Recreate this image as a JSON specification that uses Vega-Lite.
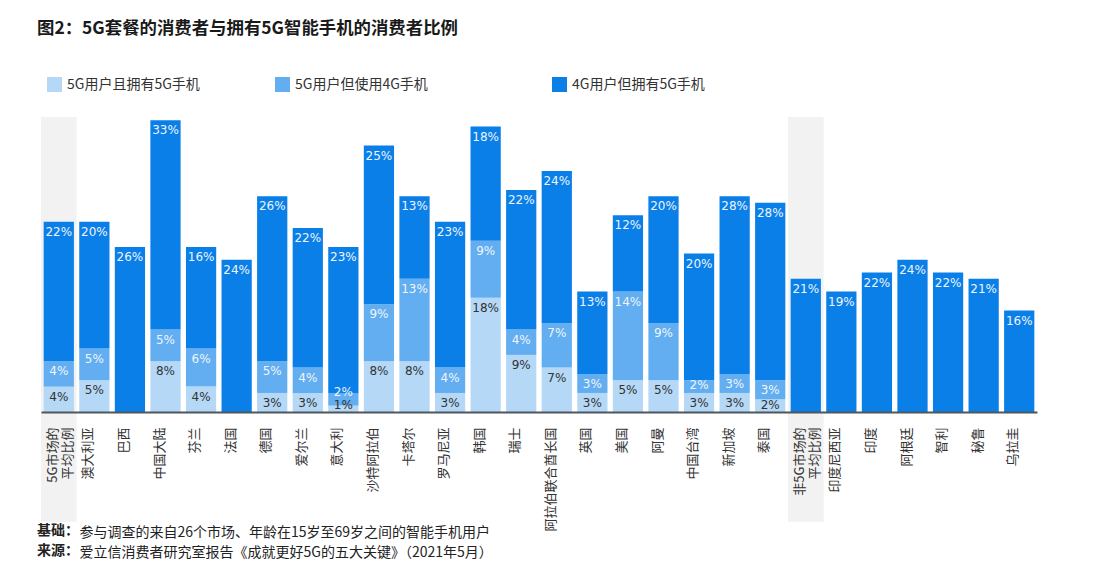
{
  "$schema": "https://vega.github.io/schema/vega-lite/v6.json",
  "width": 996,
  "height": 295,
  "autosize": {"type": "none"},
  "padding": {"left": 41, "top": 117, "right": 77, "bottom": 161},
  "background": "white",
  "title": {
    "text": "图2：5G套餐的消费者与拥有5G智能手机的消费者比例",
    "subtitle": ["基础：", "来源："],
    "anchor": "start",
    "frame": "group",
    "font": "Noto Sans CJK SC",
    "fontSize": 17.4,
    "fontWeight": "bold",
    "color": "#1a1a1a",
    "subtitleFont": "Noto Sans CJK SC",
    "subtitleFontSize": 14,
    "subtitleFontWeight": "bold",
    "subtitleColor": "#222222",
    "subtitleLineHeight": 20,
    "subtitlePadding": 487,
    "offset": -481,
    "dx": -4
  },
  "config": {
    "view": {"stroke": null},
    "legend": {
      "labelFont": "Noto Sans CJK SC",
      "labelFontSize": 14,
      "labelColor": "#333333",
      "symbolType": "square",
      "symbolSize": 225,
      "symbolStrokeWidth": 0,
      "labelOffset": 5,
      "labelLimit": 300,
      "columnPadding": 75
    }
  },
  "datasets": {
    "bands": [
      {"cat": "5G市场的|平均比例"},
      {"cat": "非5G市场的|平均比例"}
    ],
    "main": [
      {"cat": "5G市场的|平均比例", "series": "5G用户且拥有5G手机", "k": 1, "value": 4},
      {"cat": "5G市场的|平均比例", "series": "5G用户但使用4G手机", "k": 2, "value": 4},
      {"cat": "5G市场的|平均比例", "series": "4G用户但拥有5G手机", "k": 3, "value": 22},
      {"cat": "澳大利亚", "series": "5G用户且拥有5G手机", "k": 1, "value": 5},
      {"cat": "澳大利亚", "series": "5G用户但使用4G手机", "k": 2, "value": 5},
      {"cat": "澳大利亚", "series": "4G用户但拥有5G手机", "k": 3, "value": 20},
      {"cat": "巴西", "series": "4G用户但拥有5G手机", "k": 3, "value": 26},
      {"cat": "中国大陆", "series": "5G用户且拥有5G手机", "k": 1, "value": 8},
      {"cat": "中国大陆", "series": "5G用户但使用4G手机", "k": 2, "value": 5},
      {"cat": "中国大陆", "series": "4G用户但拥有5G手机", "k": 3, "value": 33},
      {"cat": "芬兰", "series": "5G用户且拥有5G手机", "k": 1, "value": 4},
      {"cat": "芬兰", "series": "5G用户但使用4G手机", "k": 2, "value": 6},
      {"cat": "芬兰", "series": "4G用户但拥有5G手机", "k": 3, "value": 16},
      {"cat": "法国", "series": "4G用户但拥有5G手机", "k": 3, "value": 24},
      {"cat": "德国", "series": "5G用户且拥有5G手机", "k": 1, "value": 3},
      {"cat": "德国", "series": "5G用户但使用4G手机", "k": 2, "value": 5},
      {"cat": "德国", "series": "4G用户但拥有5G手机", "k": 3, "value": 26},
      {"cat": "爱尔兰", "series": "5G用户且拥有5G手机", "k": 1, "value": 3},
      {"cat": "爱尔兰", "series": "5G用户但使用4G手机", "k": 2, "value": 4},
      {"cat": "爱尔兰", "series": "4G用户但拥有5G手机", "k": 3, "value": 22},
      {"cat": "意大利", "series": "5G用户且拥有5G手机", "k": 1, "value": 1},
      {"cat": "意大利", "series": "5G用户但使用4G手机", "k": 2, "value": 2},
      {"cat": "意大利", "series": "4G用户但拥有5G手机", "k": 3, "value": 23},
      {"cat": "沙特阿拉伯", "series": "5G用户且拥有5G手机", "k": 1, "value": 8},
      {"cat": "沙特阿拉伯", "series": "5G用户但使用4G手机", "k": 2, "value": 9},
      {"cat": "沙特阿拉伯", "series": "4G用户但拥有5G手机", "k": 3, "value": 25},
      {"cat": "卡塔尔", "series": "5G用户且拥有5G手机", "k": 1, "value": 8},
      {"cat": "卡塔尔", "series": "5G用户但使用4G手机", "k": 2, "value": 13},
      {"cat": "卡塔尔", "series": "4G用户但拥有5G手机", "k": 3, "value": 13},
      {"cat": "罗马尼亚", "series": "5G用户且拥有5G手机", "k": 1, "value": 3},
      {"cat": "罗马尼亚", "series": "5G用户但使用4G手机", "k": 2, "value": 4},
      {"cat": "罗马尼亚", "series": "4G用户但拥有5G手机", "k": 3, "value": 23},
      {"cat": "韩国", "series": "5G用户且拥有5G手机", "k": 1, "value": 18},
      {"cat": "韩国", "series": "5G用户但使用4G手机", "k": 2, "value": 9},
      {"cat": "韩国", "series": "4G用户但拥有5G手机", "k": 3, "value": 18},
      {"cat": "瑞士", "series": "5G用户且拥有5G手机", "k": 1, "value": 9},
      {"cat": "瑞士", "series": "5G用户但使用4G手机", "k": 2, "value": 4},
      {"cat": "瑞士", "series": "4G用户但拥有5G手机", "k": 3, "value": 22},
      {"cat": "阿拉伯联合酋长国", "series": "5G用户且拥有5G手机", "k": 1, "value": 7},
      {"cat": "阿拉伯联合酋长国", "series": "5G用户但使用4G手机", "k": 2, "value": 7},
      {"cat": "阿拉伯联合酋长国", "series": "4G用户但拥有5G手机", "k": 3, "value": 24},
      {"cat": "英国", "series": "5G用户且拥有5G手机", "k": 1, "value": 3},
      {"cat": "英国", "series": "5G用户但使用4G手机", "k": 2, "value": 3},
      {"cat": "英国", "series": "4G用户但拥有5G手机", "k": 3, "value": 13},
      {"cat": "美国", "series": "5G用户且拥有5G手机", "k": 1, "value": 5},
      {"cat": "美国", "series": "5G用户但使用4G手机", "k": 2, "value": 14},
      {"cat": "美国", "series": "4G用户但拥有5G手机", "k": 3, "value": 12},
      {"cat": "阿曼", "series": "5G用户且拥有5G手机", "k": 1, "value": 5},
      {"cat": "阿曼", "series": "5G用户但使用4G手机", "k": 2, "value": 9},
      {"cat": "阿曼", "series": "4G用户但拥有5G手机", "k": 3, "value": 20},
      {"cat": "中国台湾", "series": "5G用户且拥有5G手机", "k": 1, "value": 3},
      {"cat": "中国台湾", "series": "5G用户但使用4G手机", "k": 2, "value": 2},
      {"cat": "中国台湾", "series": "4G用户但拥有5G手机", "k": 3, "value": 20},
      {"cat": "新加坡", "series": "5G用户且拥有5G手机", "k": 1, "value": 3},
      {"cat": "新加坡", "series": "5G用户但使用4G手机", "k": 2, "value": 3},
      {"cat": "新加坡", "series": "4G用户但拥有5G手机", "k": 3, "value": 28},
      {"cat": "泰国", "series": "5G用户且拥有5G手机", "k": 1, "value": 2},
      {"cat": "泰国", "series": "5G用户但使用4G手机", "k": 2, "value": 3},
      {"cat": "泰国", "series": "4G用户但拥有5G手机", "k": 3, "value": 28},
      {"cat": "非5G市场的|平均比例", "series": "4G用户但拥有5G手机", "k": 3, "value": 21},
      {"cat": "印度尼西亚", "series": "4G用户但拥有5G手机", "k": 3, "value": 19},
      {"cat": "印度", "series": "4G用户但拥有5G手机", "k": 3, "value": 22},
      {"cat": "阿根廷", "series": "4G用户但拥有5G手机", "k": 3, "value": 24},
      {"cat": "智利", "series": "4G用户但拥有5G手机", "k": 3, "value": 22},
      {"cat": "秘鲁", "series": "4G用户但拥有5G手机", "k": 3, "value": 21},
      {"cat": "乌拉圭", "series": "4G用户但拥有5G手机", "k": 3, "value": 16}
    ]
  },
  "encoding": {
    "x": {
      "field": "cat",
      "type": "nominal",
      "sort": null,
      "scale": {
        "domain": ["5G市场的|平均比例", "澳大利亚", "巴西", "中国大陆", "芬兰", "法国", "德国", "爱尔兰", "意大利", "沙特阿拉伯", "卡塔尔", "罗马尼亚", "韩国", "瑞士", "阿拉伯联合酋长国", "英国", "美国", "阿曼", "中国台湾", "新加坡", "泰国", "非5G市场的|平均比例", "印度尼西亚", "印度", "阿根廷", "智利", "秘鲁", "乌拉圭"],
        "paddingInner": 0.15,
        "paddingOuter": 0.075
      },
      "axis": {
        "zindex": 1,
        "labelAngle": -90,
        "labelAlign": "right",
        "labelBaseline": "middle",
        "labelExpr": "split(datum.label, '|')",
        "labelFont": "Noto Sans CJK SC",
        "labelFontSize": 13,
        "labelColor": "#333333",
        "labelLineHeight": 15,
        "labelPadding": 15,
        "labelOffset": -6,
        "labelOverlap": false,
        "labelLimit": 300,
        "ticks": false,
        "domainColor": "#4f565c",
        "domainWidth": 2,
        "title": ["参与调查的来自26个市场、年龄在15岁至69岁之间的智能手机用户", "爱立信消费者研究室报告《成就更好5G的五大关键》（2021年5月）"],
        "titleFont": "Noto Sans CJK SC",
        "titleFontSize": 14,
        "titleFontWeight": "normal",
        "titleColor": "#222222",
        "titleLineHeight": 20,
        "titleAnchor": "start",
        "titleAlign": "left",
        "titleBaseline": "top",
        "titleAngle": 0,
        "titleLimit": 800,
        "titleX": 38,
        "titleY": 113
      }
    }
  },
  "layer": [
    {
      "data": {"name": "bands"},
      "mark": {"type": "bar", "color": "#f2f2f2", "width": {"band": 1.177}},
      "encoding": {
        "y": {
          "datum": 46.5,
          "type": "quantitative",
          "scale": {"domain": [0, 46.5], "nice": false},
          "axis": null
        },
        "y2": {"datum": -17.3}
      }
    },
    {
      "data": {"name": "main"},
      "transform": [
        {"stack": "value", "groupby": ["cat"], "sort": [{"field": "k", "order": "ascending"}], "as": ["y0", "y1"]}
      ],
      "mark": {"type": "bar"},
      "encoding": {
        "y": {
          "field": "y1",
          "type": "quantitative",
          "scale": {"domain": [0, 46.5], "nice": false},
          "axis": null
        },
        "y2": {"field": "y0"},
        "color": {
          "field": "series",
          "type": "nominal",
          "scale": {
            "domain": ["5G用户且拥有5G手机", "5G用户但使用4G手机", "4G用户但拥有5G手机"],
            "range": ["#b4d8f6", "#63aef0", "#0a7fe8"]
          },
          "legend": {
            "orient": "none",
            "legendX": 6,
            "legendY": -40,
            "direction": "horizontal",
            "title": null,
            "labelExpr": "datum.label == '5G用户但使用4G手机' ? datum.label + '　　　  \u200b' : datum.label"
          }
        }
      }
    },
    {
      "data": {"name": "main"},
      "transform": [
        {"stack": "value", "groupby": ["cat"], "sort": [{"field": "k", "order": "ascending"}], "as": ["y0", "y1"]},
        {"calculate": "datum.y1 <= 2 ? 1.1 : (datum.value <= 2 ? (datum.y0 < 2 ? datum.y1 + 0.15 : datum.y1 - 0.8) : max(datum.y1 - 1.6, 1.1))", "as": "labelY"},
        {"calculate": "datum.value + '%'", "as": "lab"}
      ],
      "mark": {"type": "text", "font": "DejaVu Sans", "fontSize": 12, "baseline": "middle", "align": "center"},
      "encoding": {
        "y": {"field": "labelY", "type": "quantitative", "scale": {"domain": [0, 46.5], "nice": false}, "axis": null},
        "text": {"field": "lab", "type": "nominal"},
        "color": {
          "condition": {"test": "datum.k == 1", "value": "#333333"},
          "value": "#eef5fd"
        }
      }
    }
  ]
}
